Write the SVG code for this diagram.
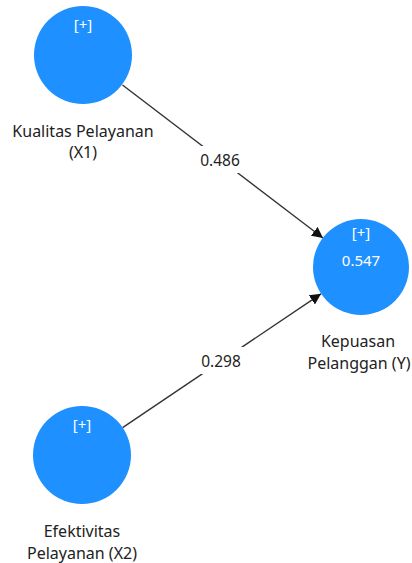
<svg xmlns="http://www.w3.org/2000/svg" width="412" height="563" viewBox="0 0 412 563">
<defs>
<style>
.node{fill:#1E90FF;}
.in{fill:#ffffff;font-family:"Noto Sans","DejaVu Sans",sans-serif;font-size:15px;text-anchor:middle;}
.lbl{fill:#222;font-family:"Noto Sans","DejaVu Sans",sans-serif;font-size:16px;text-anchor:middle;}
.edge{stroke:#333;stroke-width:1.4;fill:none;}
.elbl{fill:#222;font-family:"Noto Sans","DejaVu Sans",sans-serif;font-size:15.5px;text-anchor:middle;}
</style>
<marker id="arr" viewBox="0 0 10 10" refX="10" refY="5" markerWidth="11" markerHeight="11" markerUnits="userSpaceOnUse" orient="auto">
<path d="M0,0 L10,5 L0,10 z" fill="#111"/>
</marker>
</defs>
<rect width="412" height="563" fill="#fff"/>
<g id="connectors">
<line class="edge" x1="122.5" y1="85" x2="323" y2="238" style="marker-end:url(#arr)"/>
<line class="edge" x1="122.6" y1="427.6" x2="321" y2="293.8" style="marker-end:url(#arr)"/>
<rect x="197" y="146" width="46" height="27" fill="#fff"/>
<rect x="198" y="347" width="46" height="27" fill="#fff"/>
<text class="elbl" x="220" y="166">0.486</text>
<text class="elbl" x="221" y="367">0.298</text>
</g>
<g id="node-x1">
<circle class="node" cx="83" cy="55" r="49"/>
<text class="in" x="83" y="30">[+]</text>
<text class="lbl" x="83" y="137">Kualitas Pelayanan</text>
<text class="lbl" x="83" y="158">(X1)</text>
</g>
<g id="node-y">
<circle class="node" cx="361" cy="267" r="48"/>
<text class="in" x="361" y="238">[+]</text>
<text class="in" x="361" y="266">0.547</text>
<text class="lbl" x="358" y="347">Kepuasan</text>
<text class="lbl" x="359" y="369">Pelanggan (Y)</text>
</g>
<g id="node-x2">
<circle class="node" cx="82" cy="455" r="49"/>
<text class="in" x="82" y="430">[+]</text>
<text class="lbl" x="82" y="537">Efektivitas</text>
<text class="lbl" x="82" y="559">Pelayanan (X2)</text>
</g>
</svg>
